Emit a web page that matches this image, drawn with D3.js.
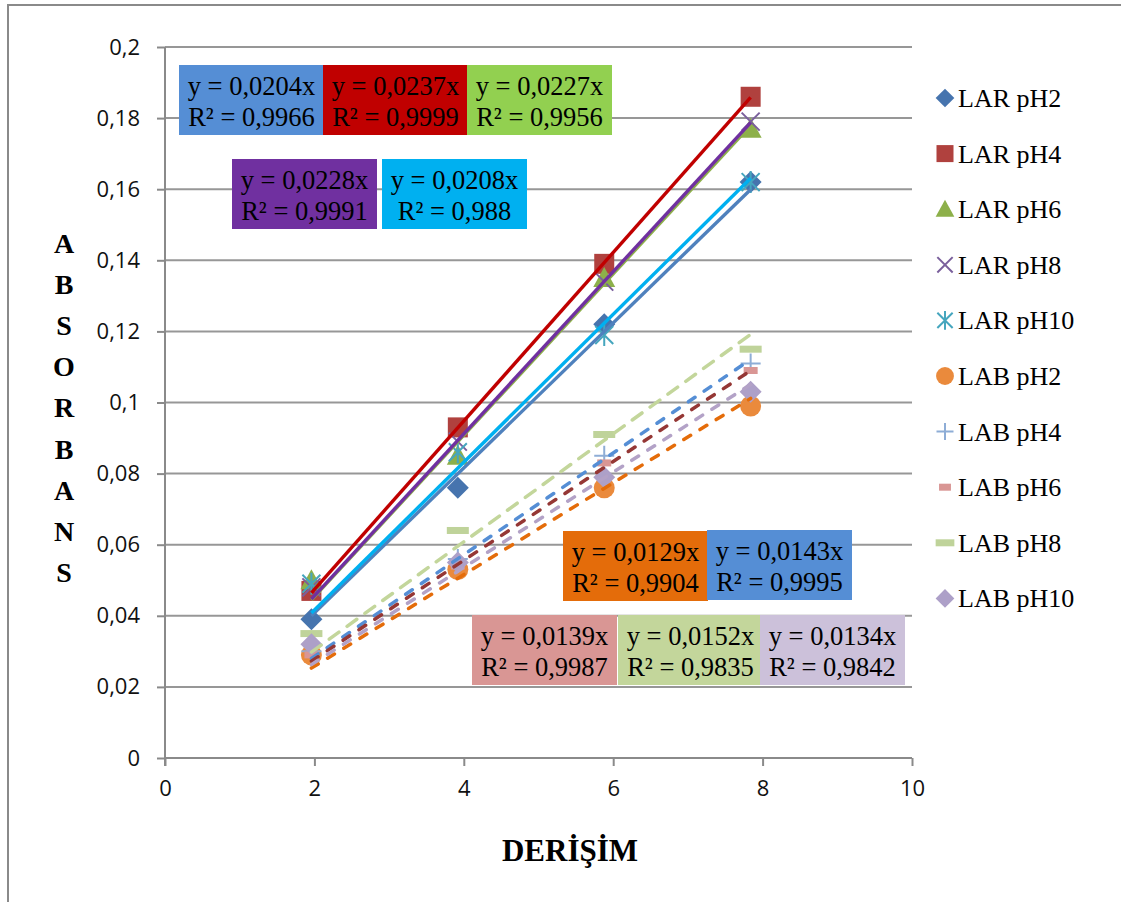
<!DOCTYPE html>
<html>
<head>
<meta charset="utf-8">
<script src="https://cdn.jsdelivr.net/npm/d3@7"></script>
<style>
  html, body { margin: 0; padding: 0; background: #fff; }
  svg { display: block; }
</style>
</head>
<body>
<svg id="chart" width="1121" height="902"></svg>
<script>
// Concentration levels (x) shared by every series
const concentrations = [1.96, 3.92, 5.88, 7.84];

// Series names, in legend order
const seriesNames = ["LAR pH2", "LAR pH4", "LAR pH6", "LAR pH8", "LAR pH10",
                     "LAB pH2", "LAB pH4", "LAB pH6", "LAB pH8", "LAB pH10"];

// Measured absorbance per series
const larPH2  = [0.039, 0.076, 0.122, 0.162];
const larPH4  = [0.047, 0.093, 0.139, 0.186];
const larPH6  = [0.050, 0.085, 0.135, 0.177];
const larPH8  = [0.048, 0.089, 0.134, 0.179];
const larPH10 = [0.049, 0.086, 0.119, 0.162];
const labPH2  = [0.029, 0.053, 0.076, 0.099];
const labPH4  = [0.030, 0.056, 0.085, 0.111];
const labPH6  = [0.029, 0.054, 0.083, 0.109];
const labPH8  = [0.035, 0.064, 0.091, 0.115];
const labPH10 = [0.032, 0.055, 0.079, 0.103];

// Linear fits through the origin: slope and R²
const slopes   = [0.0204, 0.0237, 0.0227, 0.0228, 0.0208, 0.0129, 0.0143, 0.0139, 0.0152, 0.0134];
const rSquared = [0.9966, 0.9999, 0.9956, 0.9991, 0.988, 0.9904, 0.9995, 0.9987, 0.9835, 0.9842];

// Axis ticks
const yTicks = [0, 0.02, 0.04, 0.06, 0.08, 0.1, 0.12, 0.14, 0.16, 0.18, 0.2];
const xTicks = [0, 2, 4, 6, 8, 10];

const seriesValues = [larPH2, larPH4, larPH6, larPH8, larPH10, labPH2, labPH4, labPH6, labPH8, labPH10];

// ---- styling ----
const markerShapes = ["diamond", "square", "triangle", "x", "star", "circle", "plus", "shortdash", "longdash", "diamond"];
const markerColors = ["#4674AE", "#B0413E", "#8DB04A", "#7A5F9C", "#46A6BE", "#EA8A3C", "#8EADD6", "#D99694", "#BFD39A", "#ADA0C8"];
const fitColors    = ["#4F81BD", "#C00000", "#8DB04A", "#7030A0", "#00B0F0", "#E46C0A", "#558ED5", "#953735", "#C3D69B", "#B3A2C7"];
const boxColors    = ["#558ED5", "#C00000", "#92D050", "#7030A0", "#00B0F0", "#E46C0A", "#558ED5", "#D99694", "#C3D69B", "#CCC1DA"];
// equation label boxes: left, top (pixels)
const boxPlacement = [[179, 65], [323, 65], [467, 65], [232, 159], [382, 159],
                      [563, 531], [707, 530], [472, 615], [618, 615], [760, 615]];
const boxW = 145, boxH = 70;

const svg = d3.select("#chart");
const serif = "'Liberation Serif', 'Times New Roman', serif";
const sans = "'Open Sans', 'DejaVu Sans', sans-serif";

// outer frame
svg.append("path").attr("d", "M8,905 L8,5 L1125,5")
  .attr("fill", "none").attr("stroke", "#8a8a8a").attr("stroke-width", 2);

const x = d3.scaleLinear().domain([0, 10]).range([165, 912]);
const y = d3.scaleLinear().domain([0, 0.2]).range([758, 47]);

const comma = v => String(+v.toFixed(4)).replace(".", ",");

// gridlines
svg.append("g").selectAll("line").data(yTicks.filter(t => t > 0)).join("line")
  .attr("x1", x(0)).attr("x2", x(10))
  .attr("y1", d => y(d)).attr("y2", d => y(d))
  .attr("stroke", "#979797").attr("stroke-width", 2);

// axes
const yAxis = svg.append("g").attr("transform", `translate(${x(0)},0)`)
  .call(d3.axisLeft(y).tickValues(yTicks).tickSize(8).tickPadding(17).tickFormat(comma));
const xAxis = svg.append("g").attr("transform", `translate(0,${y(0)})`)
  .call(d3.axisBottom(x).tickValues(xTicks).tickSize(8).tickPadding(14).tickFormat(d => String(d)));
[yAxis, xAxis].forEach(a => {
  a.select(".domain").attr("stroke", "#8a8a8a").attr("stroke-width", 2);
  a.selectAll(".tick line").attr("stroke", "#8a8a8a").attr("stroke-width", 2);
  a.selectAll(".tick text").attr("font-family", sans).attr("font-size", 22).attr("fill", "#111");
});
xAxis.select(".domain").attr("d", `M${x(0)},0H${x(10)}`);
yAxis.select(".domain").attr("d", `M0,${y(0) + 8}V${y(0.2)}`);

// marker drawing
function drawMarker(g, shape, color, cx, cy, s) {
  const k = s || 1;
  switch (shape) {
    case "diamond":
      g.append("path").attr("d", `M${cx},${cy - 11 * k}L${cx + 11 * k},${cy}L${cx},${cy + 11 * k}L${cx - 11 * k},${cy}Z`).attr("fill", color); break;
    case "square":
      g.append("rect").attr("x", cx - 10 * k).attr("y", cy - 10 * k).attr("width", 20 * k).attr("height", 20 * k).attr("fill", color); break;
    case "triangle":
      g.append("path").attr("d", `M${cx},${cy - 11 * k}L${cx + 11 * k},${cy + 9 * k}L${cx - 11 * k},${cy + 9 * k}Z`).attr("fill", color); break;
    case "circle":
      g.append("circle").attr("cx", cx).attr("cy", cy).attr("r", 10.5 * k).attr("fill", color); break;
    case "x":
      g.append("path").attr("d", `M${cx - 9 * k},${cy - 9 * k}L${cx + 9 * k},${cy + 9 * k}M${cx + 9 * k},${cy - 9 * k}L${cx - 9 * k},${cy + 9 * k}`)
        .attr("stroke", color).attr("stroke-width", 2); break;
    case "star":
      g.append("path").attr("d", `M${cx - 9 * k},${cy - 9 * k}L${cx + 9 * k},${cy + 9 * k}M${cx + 9 * k},${cy - 9 * k}L${cx - 9 * k},${cy + 9 * k}M${cx},${cy - 11 * k}L${cx},${cy + 11 * k}`)
        .attr("stroke", color).attr("stroke-width", 2); break;
    case "plus":
      g.append("path").attr("d", `M${cx - 10 * k},${cy}L${cx + 10 * k},${cy}M${cx},${cy - 10 * k}L${cx},${cy + 10 * k}`)
        .attr("stroke", color).attr("stroke-width", 2); break;
    case "shortdash":
      g.append("rect").attr("x", cx - 7 * k).attr("y", cy - 3.5).attr("width", 14 * k).attr("height", 7).attr("fill", color); break;
    case "longdash":
      g.append("rect").attr("x", cx - 11 * k).attr("y", cy - 3.5).attr("width", 22 * k).attr("height", 7).attr("fill", color); break;
  }
}

// data markers
const markers = svg.append("g");
seriesValues.forEach((vals, i) => {
  vals.forEach((v, j) => drawMarker(markers, markerShapes[i], markerColors[i], x(concentrations[j]), y(v)));
});

// trendlines y = a·x over the data range
const fits = svg.append("g");
const xMin = d3.min(concentrations), xMax = d3.max(concentrations);
slopes.forEach((a, i) => {
  const dashed = i >= 5;
  fits.append("line")
    .attr("x1", x(xMin)).attr("y1", y(a * xMin))
    .attr("x2", x(xMax)).attr("y2", y(a * xMax))
    .attr("stroke", fitColors[i]).attr("stroke-width", dashed ? 3.5 : 3.4)
    .attr("stroke-linecap", dashed ? "round" : "butt")
    .attr("stroke-dasharray", dashed ? (i === 8 ? "12,10" : "8,11") : null);
});

// equation label boxes
const labels = svg.append("g");
slopes.forEach((a, i) => {
  const [bx, by] = boxPlacement[i];
  labels.append("rect").attr("x", bx).attr("y", by).attr("width", boxW).attr("height", boxH).attr("fill", boxColors[i]);
  const t = labels.append("text").attr("font-family", serif).attr("font-size", 26.5).attr("fill", "#000")
    .attr("text-anchor", "middle");
  t.append("tspan").attr("x", bx + boxW / 2).attr("y", by + 30).text(`y = ${comma(a)}x`);
  t.append("tspan").attr("x", bx + boxW / 2).attr("y", by + 61).text(`R² = ${comma(rSquared[i])}`);
});

// legend
const legend = svg.append("g");
seriesNames.forEach((name, i) => {
  const cy = 98 + i * 55.6;
  drawMarker(legend, markerShapes[i], markerColors[i], 945, cy, 0.85);
  legend.append("text").attr("x", 958).attr("y", cy + 9)
    .attr("font-family", serif).attr("font-size", 26).attr("fill", "#000").text(name);
});

// axis titles
svg.append("text").attr("x", 570).attr("y", 861).attr("text-anchor", "middle")
  .attr("font-family", serif).attr("font-weight", "bold").attr("font-size", 31).text("DERİŞİM");
const yTitle = svg.append("text").attr("font-family", serif).attr("font-weight", "bold")
  .attr("font-size", 28).attr("text-anchor", "middle");
Array.from("ABSORBANS").forEach((ch, i) => {
  yTitle.append("tspan").attr("x", 64).attr("y", 253 + i * 41.1).text(ch);
});
</script>
</body>
</html>
